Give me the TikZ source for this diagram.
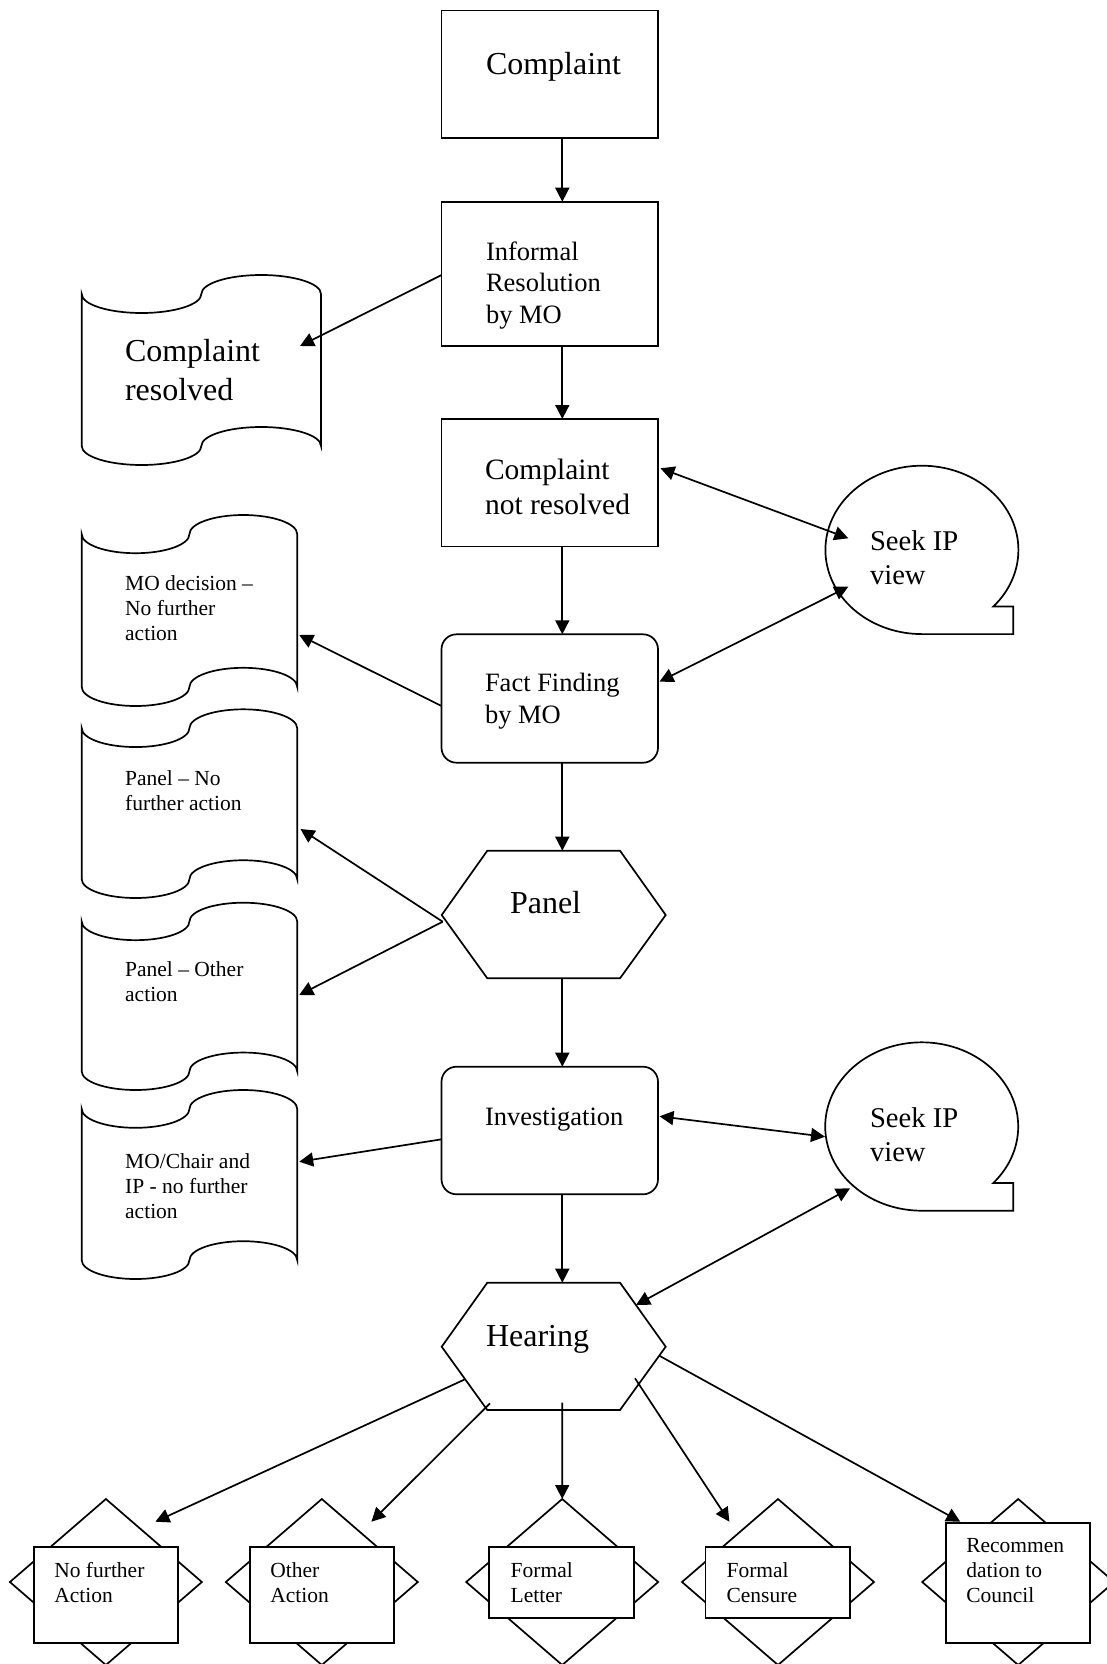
\documentclass[tikz,border=0pt]{standalone}
\usepackage{fontspec}
\setmainfont{Liberation Serif}
\usetikzlibrary{arrows.meta}
\newcommand\tapeshape[4]{%
  \draw ({#1},{#2+0.1*#4})
    arc[start angle=180,end angle=0,x radius={#3/4},y radius={#4/10}]
    arc[start angle=180,end angle=360,x radius={#3/4},y radius={#4/10}]
    -- ({#1+#3},{#2+0.9*#4})
    arc[start angle=0,end angle=-180,x radius={#3/4},y radius={#4/10}]
    arc[start angle=0,end angle=180,x radius={#3/4},y radius={#4/10}]
    -- cycle;}
\newcommand\seekshape[2]{%
  \draw ({#1+96.5*cos(42.2)},{#2+84.2*sin(42.2)})
    arc[start angle=42.2,end angle=-270,x radius=96.5,y radius=84.2]
    -- (1013.3,{#2+84.2}) -- (1013.3,{#2+56.5}) -- cycle;}
\newcommand\diashape[1]{%
  \draw ({#1-96},1582) -- ({#1},1499) -- ({#1+96},1582) -- ({#1},1665) -- cycle;}
\begin{document}
\begin{tikzpicture}[x=1pt,y=-1pt,
  line width=1.7pt, line join=miter,
  arr/.style={-{Triangle[length=14pt,width=14pt]}},
  darr/.style={{Triangle[length=14pt,width=14pt]}-{Triangle[length=14pt,width=14pt]}},
  box/.style={draw, rectangle, inner sep=0pt, outer sep=0pt, minimum width=216.5pt},
  rbox/.style={box, rounded corners=15pt},
  dbox/.style={draw, fill=white, rectangle, inner sep=0pt, outer sep=0pt},
  txt/.style={anchor=base west, inner sep=0pt, outer sep=0pt, align=left},
  fXL/.style={font=\fontsize{32}{38.3}\selectfont},
  fL/.style={font=\fontsize{29.5}{35}\selectfont},
  fS/.style={font=\fontsize{28.6}{34}\selectfont},
  fM/.style={font=\fontsize{26.5}{31.6}\selectfont},
  fT/.style={font=\fontsize{21.5}{25}\selectfont},
]
\fill[white] (0,0) rectangle (1107,1664);
\useasboundingbox (0,0) rectangle (1107,1664);

% main column boxes
\node[box, minimum height=127.4pt] (comp) at (549.75,74.3) {};
\node[box, minimum height=144.3pt] (inf) at (549.75,273.9) {};
\node[box, minimum height=127.6pt] (cnr) at (549.75,482.8) {};
\node[rbox, minimum height=128.4pt] (ff) at (549.75,698.5) {};
\node[rbox, minimum height=127.6pt] (inv) at (549.75,1130.5) {};
\coordinate (ax) at (562.3,0);

% hexagons
\draw (441.7,915) coordinate (panW) -- (487.3,850.7) coordinate (panNW)
  -- (620,850.7) coordinate (panNE) -- (665.7,915) coordinate (panE)
  -- (620,978.3) coordinate (panSE) -- (487.3,978.3) coordinate (panSW) -- cycle;
\draw (441.7,1346.7) coordinate (hearW) -- (487.3,1282.7) coordinate (hearNW)
  -- (620,1282.7) coordinate (hearNE) -- (665.7,1346.7) coordinate (hearE)
  -- (620,1410) coordinate (hearSE) -- (487.3,1410) coordinate (hearSW) -- cycle;

% punched tape documents
\tapeshape{81.7}{275}{239.3}{190}
\tapeshape{81.7}{515}{215.5}{191}
\tapeshape{81.7}{709.3}{215.5}{188.7}
\tapeshape{81.7}{902.7}{215.5}{187.3}
\tapeshape{81.7}{1090}{215.5}{189}

% seek IP shapes
\seekshape{921.9}{549.9}
\seekshape{921.7}{1126.5}

% bottom diamonds with boxes
\diashape{105.9}
\diashape{321.8}
\diashape{562.2}
\diashape{778}
\diashape{1018.2}
\node[dbox, minimum width=143.9pt, minimum height=96.6pt] (d1) at (105.95,1595) {};
\node[dbox, minimum width=144pt, minimum height=96.6pt] (d2) at (322,1595) {};
\node[dbox, minimum width=144.9pt, minimum height=71.6pt] (d3) at (561.75,1582.5) {};
\node[dbox, minimum width=144.6pt, minimum height=71.6pt] (d4) at (777.9,1582.5) {};
\node[dbox, minimum width=144pt, minimum height=120pt] (d5) at (1018,1582.7) {};
\coordinate (d3top) at (562.2,1499);

% texts (base anchor = baseline of the last line)
\node[txt,fXL] (compt) at (486,75) {Complaint};
\node[txt,fM] (inft) at (486,323.5) {Informal\\Resolution\\by MO};
\node[txt,fL] (cnrt) at (485,514) {Complaint\\not resolved};
\node[txt,fM] (fft) at (485,723.5) {Fact Finding\\by MO};
\node[txt,fXL] (pant) at (510,913.5) {Panel};
\node[txt,fM] (invt) at (485,1125.3) {Investigation};
\node[txt,fXL] (heart) at (486,1346) {Hearing};
\node[txt,fS] (s1t) at (870,584.5) {Seek IP\\view};
\node[txt,fS] (s2t) at (870,1161) {Seek IP\\view};
\node[txt,fXL] (crest) at (125,400) {Complaint\\resolved};
\node[txt,fT] (modt) at (125.2,640.5) {MO decision –\\No further\\action};
\node[txt,fT] (pnft) at (125.2,810) {Panel – No\\further action};
\node[txt,fT] (poat) at (125.2,1001.5) {Panel – Other\\action};
\node[txt,fT] (moct) at (125.2,1218.5) {MO/Chair and\\IP - no further\\action};
\node[txt,fT] (d1t) at (54.3,1602) {No further\\Action};
\node[txt,fT] (d2t) at (270.4,1602) {Other\\Action};
\node[txt,fT] (d3t) at (510.7,1602) {Formal\\Letter};
\node[txt,fT] (d4t) at (726.6,1602) {Formal\\Censure};
\node[txt,fT] (d5t) at (966.3,1602.5) {Recommen\\dation to\\Council};

% connector end points
\coordinate (infL) at (441.6,275);
\coordinate (cresR) at (300,346);
\coordinate (cnrR) at (660.5,468.3);
\coordinate (s1a) at (848.3,538.3);
\coordinate (ffR) at (659.5,681.7);
\coordinate (s1b) at (848.3,586.7);
\coordinate (ffL) at (441.6,706);
\coordinate (modR) at (299.2,635);
\coordinate (pnfR) at (300.5,829);
\coordinate (poaR) at (299.2,995);
\coordinate (panL) at (442.7,921.7);
\coordinate (invL) at (441.6,1139.3);
\coordinate (mocR) at (299.2,1161.7);
\coordinate (invR) at (659.5,1116.3);
\coordinate (s2a) at (825,1136.7);
\coordinate (hearR) at (636,1305);
\coordinate (s2b) at (850,1188.3);
\coordinate (h1) at (465,1379.3);
\coordinate (h2) at (490,1403.3);
\coordinate (h3) at (562.3,1402.7);
\coordinate (h4) at (635,1378.3);
\coordinate (h5) at (659.3,1355.7);
\coordinate (d1a) at (155.4,1521.7);
\coordinate (d2a) at (371.4,1521.7);
\coordinate (d4a) at (729.4,1521.7);
\coordinate (d5a) at (960.3,1521.7);

% connectors
\draw[arr] (comp.south -| ax) -- (inf.north -| ax);
\draw[arr] (inf.south -| ax) -- (cnr.north -| ax);
\draw[arr] (infL) -- (cresR);
\draw[arr] (cnr.south -| ax) -- (ff.north -| ax);
\draw[darr] (cnrR) -- (s1a);
\draw[darr] (ffR) -- (s1b);
\draw[arr] (ffL) -- (modR);
\draw[arr] (ff.south -| ax) -- (panNW -| ax);
\draw[arr] (panL) -- (pnfR);
\draw[arr] (panL) -- (poaR);
\draw[arr] (panSW -| ax) -- (inv.north -| ax);
\draw[arr] (invL) -- (mocR);
\draw[darr] (invR) -- (s2a);
\draw[darr] (hearR) -- (s2b);
\draw[arr] (inv.south -| ax) -- (hearNW -| ax);
\draw[arr] (h1) -- (d1a);
\draw[arr] (h2) -- (d2a);
\draw[arr] (h3) -- (d3top);
\draw[arr] (h4) -- (d4a);
\draw[arr] (h5) -- (d5a);
\end{tikzpicture}
\end{document}
